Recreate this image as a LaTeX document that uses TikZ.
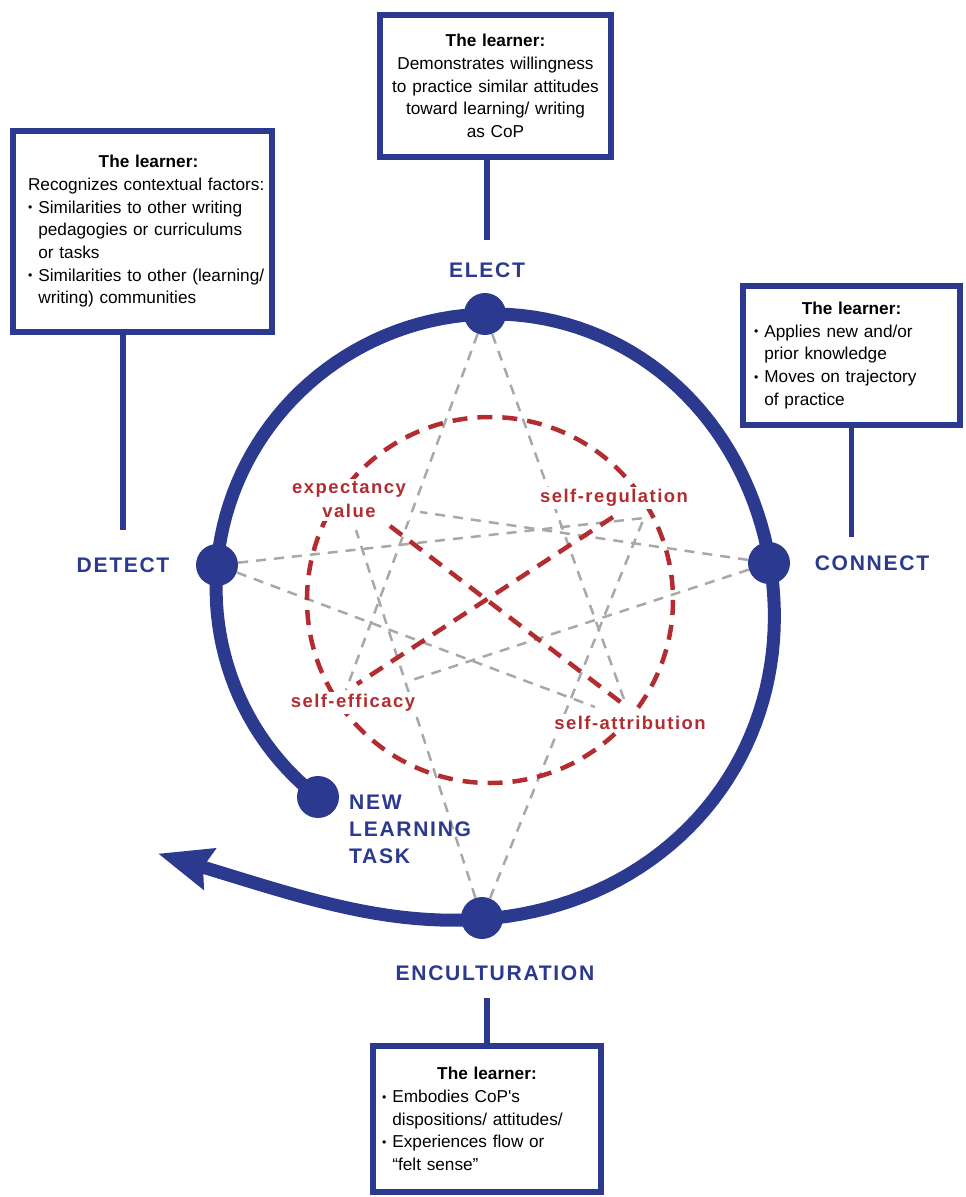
\documentclass[tikz,border=0pt]{standalone}
\usepackage{fontspec}
\setmainfont{Liberation Sans}
\newfontfamily\trackfont[LetterSpace=8]{Liberation Sans}
\usepackage{tikz}
\usetikzlibrary{calc}
\usetikzlibrary{positioning}
\usetikzlibrary{arrows.meta}

\definecolor{cycleblue}{RGB}{43,57,142}
\definecolor{motivred}{RGB}{178,44,48}
\definecolor{linkgray}{RGB}{168,168,168}

\newcommand{\lrnbul}{\makebox[0.6em][l]{\raisebox{0.15ex}{\scriptsize\textbullet}}}
\newcommand{\lrnind}{\hspace*{0.6em}}
\newcommand{\lrnhead}{\makebox[\dimexpr\hsize-\leftskip\relax]{\bfseries The learner:}}

\tikzset{
	dot/.style={circle, fill=cycleblue, minimum size=0.84cm, inner sep=0pt},
	phase/.style={text=cycleblue, font=\fontsize{12}{15.3}\selectfont\trackfont\bfseries},
	learnbox/.style={draw=cycleblue, line width=0.12cm, fill=white, font=\fontsize{9.8}{12.9}\selectfont},
	stem/.style={cycleblue, line width=0.11cm},
	motive/.style={text=motivred, fill=white, inner sep=1.5pt, align=center, font=\fontsize{10.5}{13.6}\selectfont\trackfont\bfseries},
	redlink/.style={motivred, line width=0.09cm, dash pattern=on 0.3cm off 0.2cm},
	graylink/.style={linkgray, line width=0.05cm, dash pattern=on 0.2cm off 0.16cm},
	spiral/.style={cycleblue, line width=0.26cm}
}

\begin{document}
\begin{tikzpicture}[x=0.02cm, y=-0.02cm]
			\useasboundingbox (0,0) rectangle (966,1197);

			% the cycle: radius grows with the angle, fast at the end
			\draw[spiral, -{Stealth[length=1.06cm, width=0.82cm, inset=0.12cm]}] plot[domain=130:502, samples=160, variable=\t]
				({485+(260+0.175*(\t-130)-12*exp(-((\t-350)/45)^2)+90*exp((\t-502)/18))*cos(\t)},
				 {598+(260+0.175*(\t-130)-12*exp(-((\t-350)/45)^2)+90*exp((\t-502)/18))*sin(\t)});

			\node[dot] (elect) at (485,314) {};
			\node[dot] (detect) at (217,565) {};
			\node[dot] (connect) at (769,563) {};
			\node[dot] (encult) at (482,918) {};
			\node[dot] (newtask) at (318,797) {};

			% ends of the gray links
			\coordinate (ev1) at (420,512);
			\coordinate (ev2) at (356,530);
			\coordinate (sr1) at (644,518);
			\coordinate (se1) at (346,690);
			\coordinate (se2) at (412,680);
			\coordinate (sa1) at (625,702);
			\coordinate (sa2) at (595,707);

			\draw[graylink] (elect) -- (se1);
			\draw[graylink] (elect) -- (sa1);
			\draw[graylink] (detect) -- (sr1);
			\draw[graylink] (detect) -- (sa2);
			\draw[graylink] (connect) -- (ev1);
			\draw[graylink] (connect) -- (se2);
			\draw[graylink] (encult) -- (ev2);
			\draw[graylink] (encult) -- (sr1);

			% motivation ring
			\draw[redlink] (490,600) circle[radius=183];
			\coordinate (evR) at (390,526);
			\coordinate (saR) at (627,707);
			\coordinate (srR) at (613,517);
			\coordinate (seR) at (357,684);
			\draw[redlink] (evR) -- (saR);
			\draw[redlink] (srR) -- (seR);

			\node[motive] (ev) at (349,500) {expectancy\\value};
			\node[motive] (sr) at (614,498) {self-regulation};
			\node[motive] (se) at (353,703) {self-efficacy};
			\node[motive] (sa) at (630,723) {self-attribution};

			% phases
			\node[phase] (electlbl) at (487,270) {ELECT};
			\node[phase] (detectlbl) at (123,565) {DETECT};
			\node[phase] (connectlbl) at (872,563) {CONNECT};
			\node[phase] (encultlbl) at (495,973) {ENCULTURATION};
			\node[phase, align=left, anchor=north west] (newtasklbl) at (343,789) {NEW\\LEARNING\\TASK};

			% boxes
			\node[learnbox, minimum width=4.58cm, minimum height=2.84cm, text width=4.4cm, align=center] (electbox) at (495.5,86) {\textbf{The learner:}\\Demonstrates willingness\\to practice similar attitudes\\toward learning/ writing\\as CoP};
			\node[learnbox, minimum width=5.18cm, minimum height=4.02cm, inner xsep=0.05cm, text width=5.06cm, align=left] (detectbox) at (142.5,231.5) {\leftskip=0.24cm\lrnhead\\Recognizes contextual factors:\\\lrnbul Similarities to other writing\\\lrnind pedagogies or curriculums\\\lrnind or tasks\\\lrnbul Similarities to other (learning/\\\lrnind writing) communities\par};
			\node[learnbox, minimum width=4.34cm, minimum height=2.78cm, text width=3.9cm, align=left] (connectbox) at (851.5,355.5) {\lrnhead\\\lrnbul Applies new and/or\\\lrnind prior knowledge\\\lrnbul Moves on trajectory\\\lrnind of practice};
			\node[learnbox, minimum width=4.56cm, minimum height=2.92cm, text width=4.2cm, align=left] (encultbox) at (487,1119) {\lrnhead\\\lrnbul Embodies CoP\textquotesingle s\\\lrnind dispositions/ attitudes/\\\lrnbul Experiences flow or\\\lrnind “felt sense”};

			\draw[stem, shorten >=0.33cm] (electbox.south -| electlbl) -- (electlbl);
			\draw[stem, shorten >=0.42cm] (detectbox.south -| detectlbl) -- (detectlbl);
			\draw[stem, shorten >=0.25cm] (connectbox.south) -- (connectbox.south |- connectlbl.north);
			\draw[stem, shorten >=0.23cm] (encultbox.north) -- (encultbox.north |- encultlbl.south);
        \end{tikzpicture}
\end{document}
